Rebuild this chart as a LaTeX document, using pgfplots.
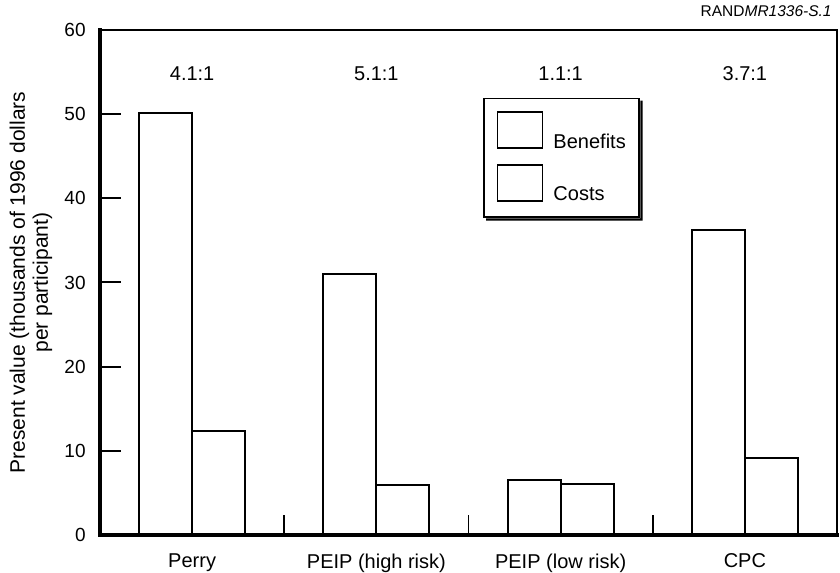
\documentclass[border=0pt]{standalone}
\usepackage{pgfplots}
\pgfplotsset{compat=1.18}
\usepackage{fontspec}
\setmainfont{Liberation Sans}
\begin{document}
\fontsize{20bp}{24bp}\selectfont
\begin{tikzpicture}
\path[use as bounding box] (-100bp,-38bp) rectangle (740bp,535bp);
\begin{axis}[
  scale only axis, width=737bp, height=505bp,
  xmin=-0.5, xmax=3.5, ymin=0, ymax=60,
  ybar, bar width=0.288,
  clip=false,
  /pgf/number format/assume math mode=true,
  axis line style={line width=1.5bp},
  xtick pos=bottom, ytick pos=left,
  xtick align=inside, ytick align=inside,
  major tick length=20bp,
  ytick={0,10,20,30,40,50,60},
  xtick={0.5,1.5,2.5},
  xticklabels={},
  extra x ticks={0,1,2,3},
  extra x tick labels={Perry,PEIP (high risk),PEIP (low risk),CPC},
  extra x tick style={major tick length=0bp,
    xticklabel style={font=\fontsize{20bp}{24bp}\selectfont, yshift=-12bp}},
  xtick style={line width=1.5bp, draw=black},
  ytick style={line width=2bp, draw=black},
  yticklabel style={font=\fontsize{19bp}{22bp}\selectfont, xshift=-7.5bp},
  ylabel={Present value (thousands of 1996 dollars\\per participant)},
  ylabel style={at={([xshift=-69bp]rel axis cs:0,0.5)}, anchor=center, align=center,
    font=\fontsize{21bp}{23bp}\selectfont},
  legend style={at={(rel axis cs:0.52,0.866)}, anchor=north west, name=leg,
    draw=black, line width=1.5bp, fill=white,
    inner xsep=13bp, inner ysep=13bp,
    nodes={inner sep=0pt, font=\fontsize{20bp}{24bp}\selectfont},
    cells={anchor=base west},
    row sep=13bp, column sep=10bp},
  legend image code/.code={\draw[line width=1.5bp, fill=white, draw=black] (0bp,0bp) rectangle (45bp,36bp);},
]
\addplot[draw=black, fill=white, line width=2bp, bar shift=-0.144] coordinates {(0,50.1) (1,31.0) (2,6.5) (3,36.2)};
\addlegendentry{Benefits}
\addplot[draw=black, fill=white, line width=2bp, bar shift=0.144] coordinates {(0,12.3) (1,5.9) (2,6.0) (3,9.1)};
\addlegendentry{Costs}
\node at (axis cs:0,54.8) {4.1:1};
\node at (axis cs:1,54.8) {5.1:1};
\node at (axis cs:2,54.8) {1.1:1};
\node at (axis cs:3,54.8) {3.7:1};
\draw[line width=3.5bp, line cap=rect] (rel axis cs:0,1) -- (rel axis cs:0,0) -- (rel axis cs:1,0);
\node[anchor=base east, font=\fontsize{15.5bp}{18bp}\selectfont] at ([yshift=13bp]rel axis cs:1.002,1) {RAND\textit{MR1336-S.1}};
\end{axis}
\draw[line width=2bp, black]
  (0bp,84.17bp) -- (21bp,84.17bp)
  (0bp,168.33bp) -- (21bp,168.33bp)
  (0bp,252.5bp) -- (21bp,252.5bp)
  (0bp,336.67bp) -- (21bp,336.67bp)
  (0bp,420.83bp) -- (21bp,420.83bp);
\fill[black] ([xshift=0.75bp,yshift=-3bp]leg.north east) -- ([xshift=3bp,yshift=-3bp]leg.north east)
  -- ([xshift=3bp,yshift=-3bp]leg.south east) -- ([xshift=3bp,yshift=-3bp]leg.south west)
  -- ([xshift=3bp,yshift=-0.75bp]leg.south west) -- ([xshift=0.75bp,yshift=-0.75bp]leg.south east) -- cycle;
\end{tikzpicture}
\end{document}
